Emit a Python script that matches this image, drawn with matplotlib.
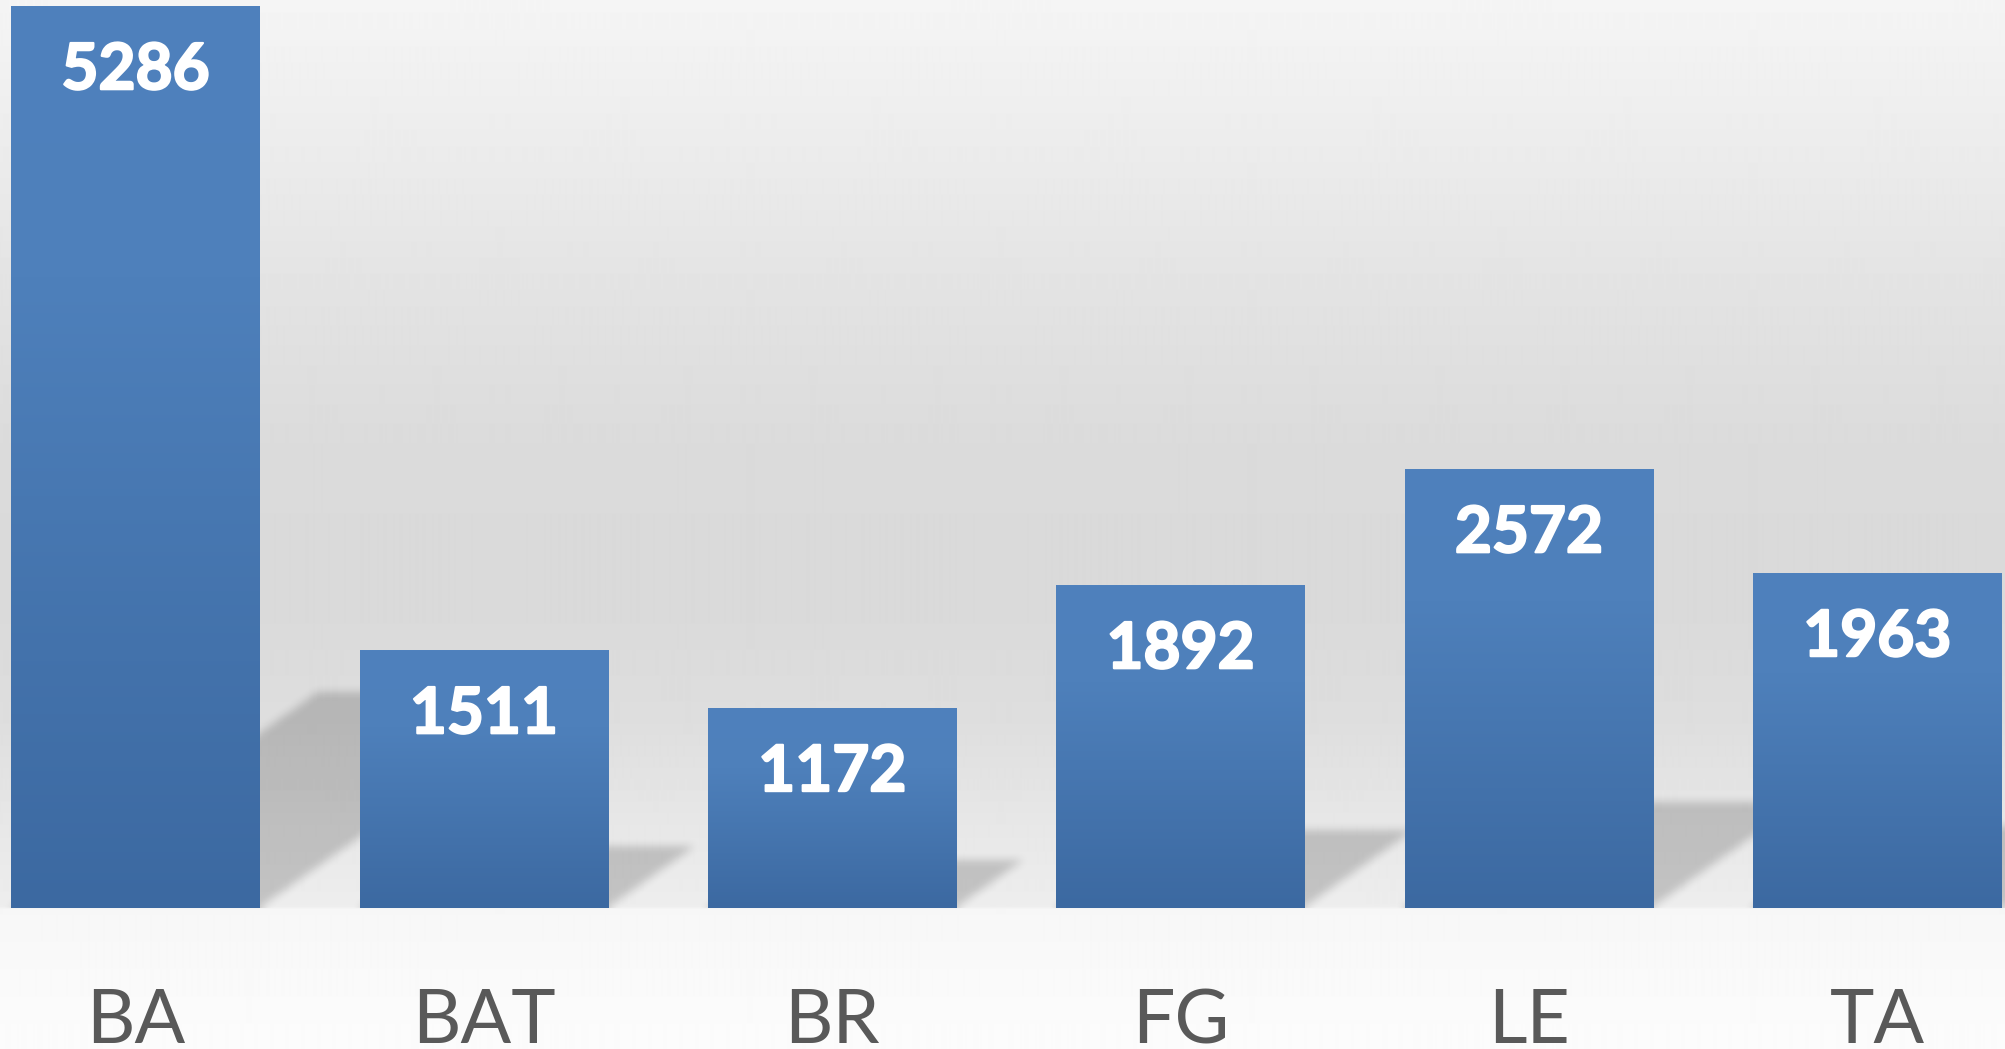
import numpy as np
import matplotlib.pyplot as plt
import matplotlib.patheffects as pe
from matplotlib import transforms
from matplotlib.colors import LinearSegmentedColormap

categories = ['BA', 'BAT', 'BR', 'FG', 'LE', 'TA']
values = [5286, 1511, 1172, 1892, 2572, 1963]

W, H = 2005, 1049
fig = plt.figure(figsize=(W / 100, H / 100), dpi=100)

# background gradient over the whole figure
bg = fig.add_axes([0, 0, 1, 1], zorder=0)
bg.axis('off')
ys = np.array([0, 150, 300, 450, 600, 720, 820, 906, 909, 1049])
gs = np.array([0.960, 0.925, 0.888, 0.858, 0.852, 0.870, 0.905, 0.930, 0.968, 0.988])
col = np.interp(np.arange(H), ys, gs)
bg.imshow(np.repeat(col[:, None], 4, axis=1), cmap='gray', vmin=0, vmax=1,
          aspect='auto', extent=[0, 1, 0, 1], origin='upper', interpolation='bilinear')
bg.set_xlim(0, 1)
bg.set_ylim(0, 1)

base = 908
ax = fig.add_axes([0, (H - base) / H, 1, base / H], zorder=1)
ax.patch.set_alpha(0)
ymax = 5322
xlo, xhi = -0.389, 5.367
ax.set_xlim(xlo, xhi)
ax.set_ylim(0, ymax)
ax.axis('off')

x = np.arange(len(categories))
width = 0.712

# perspective shadows: parallelogram leaning right, blurred
nx, ny = 1000, 454
gx = np.linspace(xlo, xhi, nx)
gy = np.linspace(0, ymax, ny)
XX, YY = np.meshgrid(gx, gy)
mask = np.zeros_like(XX)
lean = 6.95e-4   # category units per value unit
for xi, v in zip(x, values):
    h = 0.24 * v
    xs = XX - lean * YY
    inside = (YY <= h) & (xs >= xi - width / 2) & (xs <= xi + width / 2)
    mask[inside] = 1.0

def box_blur(a, k, axis):
    pad = [(0, 0), (0, 0)]
    pad[axis] = (k, k)
    a2 = np.pad(a, pad, mode='edge')
    c = np.cumsum(a2, axis=axis)
    c = np.insert(c, 0, 0, axis=axis)
    n = a.shape[axis]
    lo = np.take(c, np.arange(0, n) + k - k // 2, axis=axis)
    hi = np.take(c, np.arange(0, n) + k + k // 2 + 1, axis=axis)
    return (hi - lo) / (2 * (k // 2) + 1)

for _ in range(2):
    mask = box_blur(mask, 5, 0)
    mask = box_blur(mask, 5, 1)
shadow = np.zeros((ny, nx, 4))
shadow[..., 3] = 0.18 * mask
ax.imshow(shadow, extent=[xlo, xhi, 0, ymax], origin='lower', aspect='auto',
          zorder=1, interpolation='bilinear')

# bars with vertical gradient
bars = ax.bar(x, values, width=width, color='#4a7ab5', zorder=2)
cmap = LinearSegmentedColormap.from_list('barblue', [(0, '#3c69a1'), (0.7, '#4e80bb'), (1, '#4f81bd')])
grad = np.linspace(0, 1, 256)[:, None]
for b in bars:
    bx, by = b.get_x(), b.get_y()
    im = ax.imshow(grad, cmap=cmap, aspect='auto', origin='lower', zorder=3,
                   extent=[bx, bx + b.get_width(), by, by + b.get_height()])
    im.set_clip_path(b)
ax.set_xlim(xlo, xhi)
ax.set_ylim(0, ymax)

# value labels inside bars
for xi, v in zip(x, values):
    ax.annotate(str(v), (xi, v), xytext=(0, -59.8), textcoords='offset points',
                ha='center', va='baseline', color='white', fontsize=46,
                fontweight='bold', family='Lato', zorder=4,
                path_effects=[pe.withStroke(linewidth=1.6, foreground='white')])

# category labels
trans = transforms.blended_transform_factory(ax.transData, fig.transFigure)
for xi, c in zip(x, categories):
    ax.text(xi, 6 / H, c, transform=trans, ha='center', va='baseline',
            color='#595959', fontsize=54, family='Lato', clip_on=False)

fig.savefig('out.png', dpi=100)
